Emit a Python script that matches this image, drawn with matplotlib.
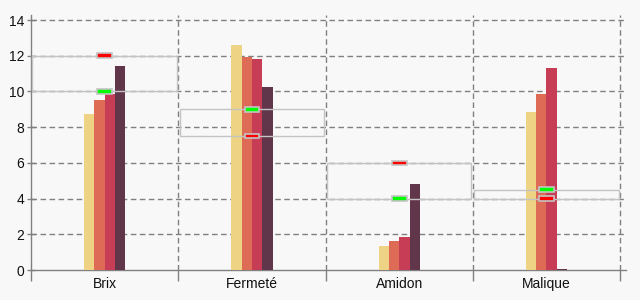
import matplotlib
matplotlib.use("Agg")
import matplotlib.pyplot as plt
from matplotlib.patches import Rectangle
import numpy as np

# Data
categories = ["Brix", "Fermeté", "Amidon", "Malique"]
serie_1 = [8.73, 12.6, 1.34, 8.85]
serie_2 = [9.52, 11.93, 1.62, 9.85]
serie_3 = [9.85, 11.81, 1.85, 11.31]
serie_4 = [11.42, 10.25, 4.82, 0.05]
cible_verte = [10.0, 9.0, 4.0, 4.5]
cible_rouge = [12.0, 7.5, 6.0, 4.0]

series = [serie_1, serie_2, serie_3, serie_4]
colors = ["#EDD383", "#DD6B55", "#C63D55", "#62364A"]
bg = "#F8F8F8"
grid_color = "#808080"
box_color = "#C4C4C4"

plt.rcParams["font.family"] = ["Liberation Sans", "DejaVu Sans"]

fig = plt.figure(figsize=(6.4, 3.0), dpi=100, facecolor=bg)
ax = fig.add_axes([31 / 640, 30 / 300, 595 / 640, 255 / 300], facecolor=bg)

x = np.arange(len(categories))
width = 0.07
for i, (vals, col) in enumerate(zip(series, colors)):
    ax.bar(x + (i - 1.5) * width, vals, width=width, color=col,
           linewidth=0, zorder=3)

# target range boxes and markers
for xi, g, r in zip(x, cible_verte, cible_rouge):
    lo, hi = min(g, r), max(g, r)
    ax.add_patch(Rectangle((xi - 0.49, lo), 0.98, hi - lo, fill=False,
                           edgecolor=box_color, linewidth=1.0, zorder=4))
    for val, fc in ((g, "#00FF00"), (r, "#FF0000")):
        ax.add_patch(Rectangle((xi - 0.05, val - 0.13), 0.1, 0.26,
                               facecolor=fc, edgecolor=box_color,
                               linewidth=1.2, zorder=5))

ax.set_xlim(-0.5, 3.54)
ax.set_ylim(0, 14.28)

ax.set_yticks(np.arange(0, 15, 2))
ax.set_xticks(x)
ax.set_xticklabels(categories)
ax.set_xticks(np.arange(-0.5, 4, 1), minor=True)

ax.tick_params(axis="x", which="major", length=0, pad=5, labelsize=10,
               labelcolor="#111111")
ax.tick_params(axis="x", which="minor", length=8, color=grid_color, width=1)
ax.tick_params(axis="y", length=6, direction="inout", color=grid_color,
               width=1, labelsize=10, pad=2, labelcolor="#111111")

for yv in range(2, 15, 2):
    ax.axhline(yv, color=grid_color, linewidth=1, dashes=(4, 2.5), zorder=1)
for xv in np.arange(0.5, 4, 1):
    ax.axvline(xv, color=grid_color, linewidth=1, dashes=(4, 2.5), zorder=1)

for side in ("top", "right"):
    ax.spines[side].set_visible(False)
for side in ("left", "bottom"):
    ax.spines[side].set_color(grid_color)
    ax.spines[side].set_linewidth(1)

fig.savefig("out.png", dpi=100, facecolor=bg)
